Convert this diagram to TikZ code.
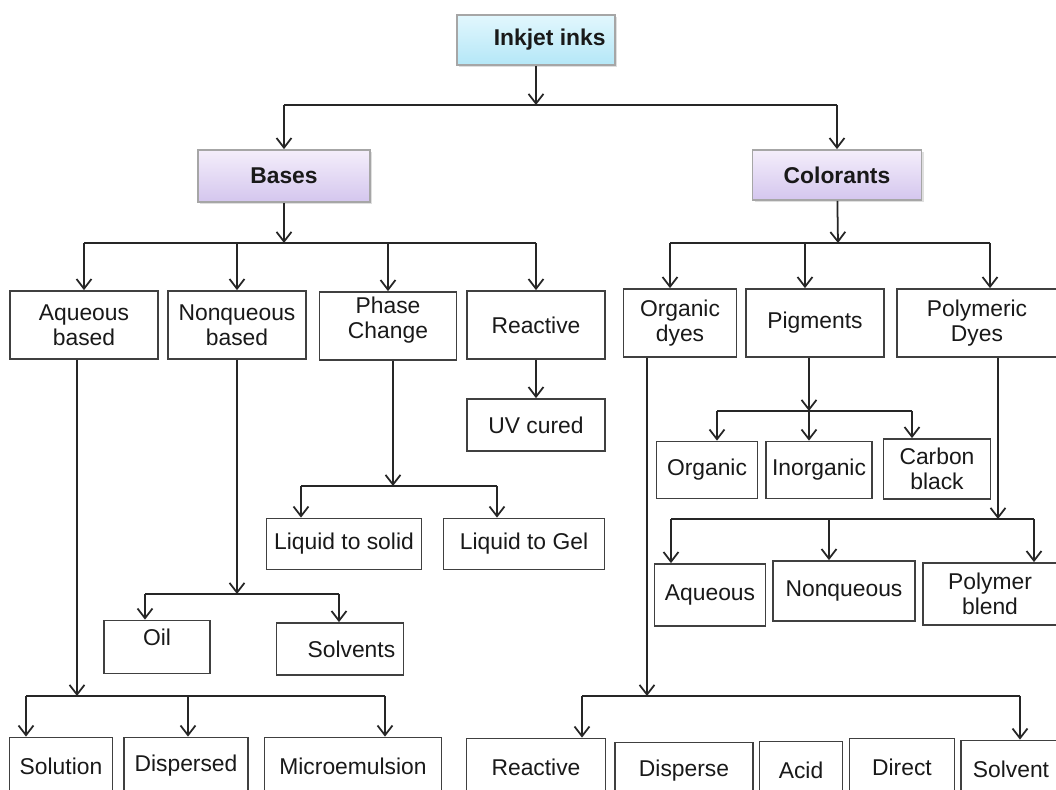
\documentclass[tikz,border=0pt]{standalone}
\usepackage{fontspec}
\setmainfont{Liberation Sans}
\usepackage{xcolor}
\usetikzlibrary{arrows.meta,positioning,calc,shadows}

\definecolor{inktop}{RGB}{226,247,253}
\definecolor{inkbot}{RGB}{180,231,247}
\definecolor{lavtop}{RGB}{244,238,251}
\definecolor{lavbot}{RGB}{212,198,238}

\begin{document}
\begin{tikzpicture}[
  x=0.02cm, y=-0.02cm,
  box/.style={rectangle, draw=black!75, line width=1pt, align=center, inner sep=2pt, text=black!90, font=\fontsize{13}{14.5}\selectfont},
  head/.style={box, draw=black!35, font=\fontsize{13}{15}\selectfont\bfseries, drop shadow={opacity=0.25, shadow xshift=1.2pt, shadow yshift=-1.2pt}},
  arr/.style={-{Straight Barb[length=5.5pt, width=8.5pt]}, line width=1pt, black!85},
  ln/.style={line width=1pt, black!85}
]
\useasboundingbox (0,0) rectangle (1056,790);
\fill[white] (0,0) rectangle (1056,790);
\clip (0,0) rectangle (1056,790);

% Top: root and the two groups
\node[head, top color=inktop, bottom color=inkbot, minimum width=3.16cm, minimum height=1.0cm] (ink) at (536,40) {\hspace*{1.2em}Inkjet inks};
\node[head, top color=lavtop, bottom color=lavbot, minimum width=3.44cm, minimum height=1.04cm] (bases) at (284,176) {Bases};
\node[head, top color=lavtop, bottom color=lavbot, minimum width=3.38cm, minimum height=1.0cm] (colorants) at (837,175) {Colorants};

% Bases: second row
\node[box, minimum width=2.96cm, minimum height=1.36cm] (aqb) at (84,325) {Aqueous\\based};
\node[box, minimum width=2.76cm, minimum height=1.36cm] (nqb) at (237,325) {Nonqueous\\based};
\node[box, minimum width=2.74cm, minimum height=1.36cm] (phase) at (388,326) {Phase\\Change\\[-0.4em]};
\node[box, minimum width=2.76cm, minimum height=1.36cm] (react) at (536,325) {Reactive};
\node[box, minimum width=2.76cm, minimum height=1.04cm] (uv) at (536,425) {UV cured};

% Colorants: second row
\node[box, minimum width=2.26cm, minimum height=1.36cm] (odyes) at (680,323) {Organic\\dyes};
\node[box, minimum width=2.76cm, minimum height=1.36cm] (pigm) at (815,323) {Pigments};
\node[box, minimum width=3.2cm, minimum height=1.36cm] (pdyes) at (977,323) {Polymeric\\Dyes};

% Pigments
\node[box, minimum width=2.02cm, minimum height=1.14cm] (org) at (707,470) {Organic};
\node[box, minimum width=2.12cm, minimum height=1.14cm] (inorg) at (819,470) {Inorganic};
\node[box, minimum width=2.14cm, minimum height=1.2cm] (carb) at (937,469) {Carbon\\black};

% Phase change
\node[box, minimum width=3.1cm, minimum height=1.02cm] (ls) at (344,544) {Liquid to solid};
\node[box, minimum width=3.22cm, minimum height=1.02cm] (lg) at (524,544) {Liquid to Gel};

% Polymeric dyes
\node[box, minimum width=2.22cm, minimum height=1.24cm] (aq) at (710,595) {Aqueous};
\node[box, minimum width=2.84cm, minimum height=1.2cm] (nq) at (844,591) {Nonqueous};
\node[box, minimum width=2.68cm, minimum height=1.24cm] (pb) at (990,594) {Polymer\\blend};

% Nonqueous based
\node[box, minimum width=2.12cm, minimum height=1.06cm, label={[anchor=north, yshift=-2pt, font=\fontsize{13}{14.5}\selectfont, text=black!90]north:Oil}] (oil) at (157,647) {};
\node[box, minimum width=2.54cm, minimum height=1.04cm] (solvs) at (340,649) {\hspace*{1em}Solvents};

% Bottom row
\node[box, minimum width=2.06cm, minimum height=1.14cm] (sol) at (61,766) {Solution};
\node[box, minimum width=2.48cm, minimum height=1.14cm] (disp) at (186,766) {Dispersed};
\node[box, minimum width=3.54cm, minimum height=1.14cm] (micro) at (353,766) {Microemulsion};
\node[box, minimum width=2.78cm, minimum height=1.14cm] (react2) at (536,767) {Reactive};
\node[box, minimum width=2.76cm, minimum height=1.14cm] (dispe) at (684,771) {Disperse};
\node[box, minimum width=1.66cm, minimum height=1.14cm] (acid) at (801,770) {Acid};
\node[box, minimum width=2.1cm, minimum height=1.14cm] (direct) at (902,767) {Direct};
\node[box, minimum width=2.0cm, minimum height=1.14cm] (solv) at (1011,769) {Solvent};

% Root split
\coordinate (t0) at (536,105);
\draw[arr] (ink) -- (t0);
\draw[ln] (bases |- t0) -- (colorants |- t0);
\draw[arr] (bases |- t0) -- (bases);
\draw[arr] (colorants |- t0) -- (colorants);

% Bases split
\coordinate (b0) at (284,243);
\draw[arr] (bases) -- (b0);
\draw[ln] (aqb.north |- b0) -- (react.north |- b0);
\foreach \n in {aqb,nqb,phase,react}
  \draw[arr] (\n.north |- b0) -- (\n.north);
\draw[arr] (react) -- (uv);

% Colorants split
\coordinate (c0) at (838,243);
\coordinate (c1) at (670,243);
\coordinate (c2) at (805,243);
\coordinate (c3) at (990,243);
\draw[arr] (colorants) -- (c0);
\draw[ln] (c1) -- (c3);
\foreach \j/\n in {c1/odyes,c2/pigm,c3/pdyes}
  \draw[arr] (\j) -- (\j |- \n.north);

% Phase change split
\coordinate (p0) at (393,486);
\coordinate (p1) at (301,486);
\coordinate (p2) at (497,486);
\draw[arr] (p0 |- phase.south) -- (p0);
\draw[ln] (p1) -- (p2);
\draw[arr] (p1) -- (p1 |- ls.north);
\draw[arr] (p2) -- (p2 |- lg.north);

% Nonqueous split
\coordinate (n0) at (237,594);
\coordinate (n1) at (145,594);
\coordinate (n2) at (339,594);
\draw[arr] (n0 |- nqb.south) -- (n0);
\draw[ln] (n1) -- (n2);
\draw[arr] (n1) -- (n1 |- oil.north);
\draw[arr] (n2) -- (n2 |- solvs.north);

% Aqueous split
\coordinate (a0) at (77,696);
\coordinate (a1) at (26,696);
\coordinate (a2) at (188,696);
\coordinate (a3) at (385,696);
\draw[arr] (a0 |- aqb.south) -- (a0);
\draw[ln] (a1) -- (a3);
\foreach \j/\n in {a1/sol,a2/disp,a3/micro}
  \draw[arr] (\j) -- (\j |- \n.north);

% Pigments split
\coordinate (g0) at (809,411);
\coordinate (g1) at (717,411);
\coordinate (g3) at (912,411);
\draw[arr] (g0 |- pigm.south) -- (g0);
\draw[ln] (g1) -- (g3);
\foreach \j/\n in {g1/org,g0/inorg,g3/carb}
  \draw[arr] (\j) -- (\j |- \n.north);

% Polymeric dyes split
\coordinate (y0) at (998,519);
\coordinate (y1) at (671,519);
\coordinate (y2) at (829,519);
\coordinate (y3) at (1034,519);
\draw[arr] (y0 |- pdyes.south) -- (y0);
\draw[ln] (y1) -- (y3);
\foreach \j/\n in {y1/aq,y2/nq,y3/pb}
  \draw[arr] (\j) -- (\j |- \n.north);

% Organic dyes split
\coordinate (o0) at (647,696);
\coordinate (o1) at (582,696);
\coordinate (o2) at (1020,696);
\draw[arr] (o0 |- odyes.south) -- (o0);
\draw[ln] (o1) -- (o2);
\draw[arr] (o1) -- (o1 |- react2.north);
\draw[arr] (o2) -- (o2 |- solv.north);

\end{tikzpicture}
\end{document}
